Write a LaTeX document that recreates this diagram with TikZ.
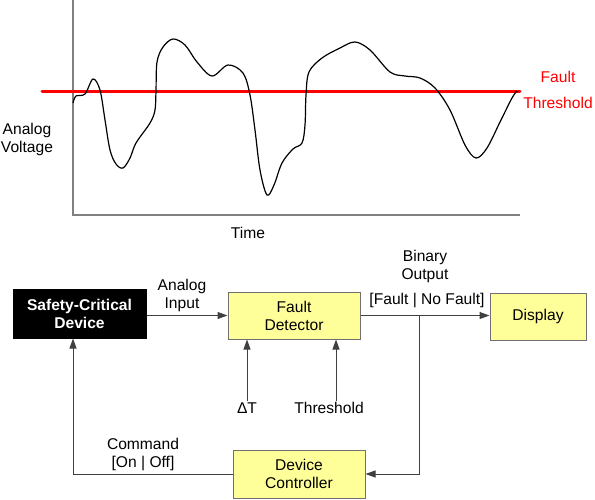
\documentclass[tikz,border=0pt]{standalone}
\usepackage{fontspec}
\setmainfont{Liberation Sans}
\usetikzlibrary{arrows.meta}
\definecolor{boxyellow}{HTML}{FFFF99}
\definecolor{boxedge}{HTML}{707070}
\definecolor{axisgray}{HTML}{808080}
\definecolor{connector}{HTML}{404040}
\definecolor{redline}{HTML}{FF0000}
\begin{document}
\begin{tikzpicture}[x=1pt,y=-1pt,
  every node/.style={font=\fontsize{15.6}{18}\selectfont},
  box/.style={draw=boxedge, line width=1pt, fill=boxyellow, minimum width=132pt, minimum height=47pt, align=center, inner sep=2pt},
  lbl/.style={align=center, inner sep=1pt},
  arr/.style={draw=connector, line width=1pt, -{Triangle[length=10pt,width=7pt]}}]
\useasboundingbox (0,0) rectangle (595,499);
% plot axes
\coordinate (ytop) at (73,0);
\coordinate (orig) at (73,215);
\coordinate (xend) at (520,215);
\draw[axisgray, line width=1.2pt] (ytop) -- (orig) -- (xend);
% threshold line
\coordinate (thl) at (42,91);
\coordinate (thr) at (520,91);
\draw[redline, line width=3pt, line cap=round] (thl) -- (thr);
% signal
\draw[black, line width=1.2pt] plot[smooth, tension=0.55] coordinates {
 (73,103) (76,96) (85,94) (93,79) (100,90) (105,120) (110,150) (116,164) (123,168)
 (130,158) (136,143) (150,123) (155,110) (156,90) (157,62) (163,47) (173,39) (185,45)
 (197,62) (212,76) (228,65) (243,73) (250,95) (255,130) (260,170) (267,195) (274,185)
 (282,163) (293,149) (302,143) (305,125) (306,95) (309,72) (322,58) (340,48) (355,42)
 (370,50) (390,72) (405,76) (420,78) (435,88) (450,110) (465,145) (476,158) (487,148)
 (500,122) (512,98) (517,91)};
\node[lbl] (av) at (27,139) {Analog\\Voltage};
\node[lbl] (time) at (248,233) {Time};
\node[lbl, text=redline, font=\fontsize{15.6}{26}\selectfont] (ft) at (558,90) {Fault\\Threshold};
% block diagram
\node[box, fill=black, draw=black, text=white, font=\fontsize{15.6}{18}\selectfont\bfseries, minimum width=133pt, minimum height=49pt] (scd) at (79.5,313.5) {Safety-Critical\\Device};
\node[box] (fd) at (294,315.5) {Fault\\Detector};
\node[box, minimum width=96pt] (disp) at (538,316.5) {Display};
\node[box, minimum height=48pt] (dc) at (299,474) {Device\\Controller};
\node[lbl] (ain) at (182,295) {Analog\\Input};
\node[lbl] (bout) at (425,266) {Binary\\Output};
\node[lbl] (ff) at (427,300) {[Fault | No Fault]};
\node[lbl] (cmd) at (143,454) {Command\\{}[On | Off]};
\node[lbl] (dt) at (247,408) {ΔT};
\node[lbl] (thrl) at (329,408) {Threshold};
\coordinate (br) at (419,315.5);
\coordinate (ret) at (73,474);
\draw[arr] (fd.west -| scd.east) -- (fd.west);
\draw[arr] (fd.east) -- (fd.east -| disp.west);
\draw[arr] (br) |- (dc.east);
\draw[arr] (dc.west) -- (ret) -- (ret |- scd.south);
\draw[arr] (dt.north) -- (dt.north |- fd.south);
\draw[arr] ([xshift=7pt]thrl.north) -- ([xshift=7pt]thrl.north |- fd.south);
\end{tikzpicture}
\end{document}
